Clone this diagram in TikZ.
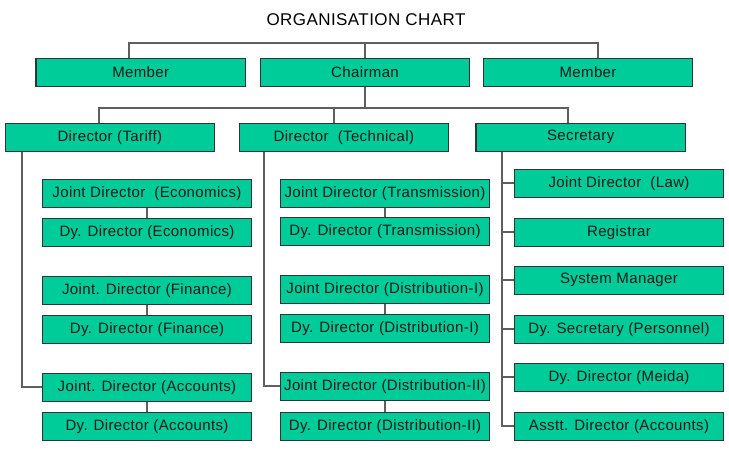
\documentclass[tikz,border=0pt]{standalone}
\usepackage{fontspec}
\setmainfont{Liberation Sans}
\newfontfamily\chartfont[LetterSpace=2.5]{Liberation Sans}
\usepackage{tikz}
\usetikzlibrary{positioning}

\definecolor{postgreen}{HTML}{00CC99}
\definecolor{postedge}{HTML}{333333}
\definecolor{linkgray}{HTML}{5F5F5F}

\tikzset{
    post/.style={draw=postedge,fill=postgreen,line width=1.1pt,minimum width=209.5pt,
        minimum height=28pt,inner sep=0pt,font=\chartfont\fontsize{15}{17}\selectfont,text=black!90},
    link/.style={draw=linkgray,line width=1.7pt}
}

\begin{document}
\begin{tikzpicture}[x=1pt,y=-1pt]
    \useasboundingbox (0,0) rectangle (729,455);
    \node (title) at (366,20) {\chartfont\fontsize{17}{19}\selectfont ORGANISATION CHART};

    % board
    \node[post] (member1) at (140.7,72.3) {Member};
    \node[post] (chairman) at (365,72.3) {Chairman};
    \node[post] (member2) at (588,72.3) {Member};

    % directors
    \node[post] (tariff) at (109.8,137.3) {Director (Tariff)};
    \node[post] (technical) at (343.8,137.3) {Director\ \ (Technical)};
    \node[post] (secretary) at (580.7,137.3) {Secretary};

    % tariff wing
    \node[post] (jdecon) at (147,193.5) {Joint Director\ \ (Economics)};
    \node[post] (dyecon) at (147,232.3) {Dy. Director (Economics)};
    \node[post] (jdfin) at (147,290.3) {Joint. Director (Finance)};
    \node[post] (dyfin) at (147,329.3) {Dy. Director (Finance)};
    \node[post] (jdacc) at (147,387.3) {Joint. Director (Accounts)};
    \node[post] (dyacc) at (147,426.3) {Dy. Director (Accounts)};

    % technical wing
    \node[post] (jdtrans) at (385,193.5) {Joint Director (Transmission)};
    \node[post] (dytrans) at (385,231.3) {Dy. Director (Transmission)};
    \node[post] (jddisa) at (385,289.3) {Joint Director (Distribution-I)};
    \node[post] (dydisa) at (385,328.3) {Dy. Director (Distribution-I)};
    \node[post] (jddisb) at (385,386.2) {Joint Director (Distribution-II)};
    \node[post] (dydisb) at (385,426.3) {Dy. Director (Distribution-II)};

    % secretary wing
    \node[post] (jdlaw) at (619,183.3) {Joint Director\ \ (Law)};
    \node[post] (registrar) at (619,232.3) {Registrar};
    \node[post] (sysmgr) at (619,280.3) {System Manager};
    \node[post] (dysec) at (619,329.3) {Dy. Secretary (Personnel)};
    \node[post] (dymeida) at (619,377.3) {Dy. Director (Meida)};
    \node[post] (asstt) at (619,426.3) {Asstt. Director (Accounts)};

    \coordinate (topbar) at (365,42.7);
    \coordinate (midbar) at (365,107.7);
    \coordinate (secspine) at ([xshift=-78.7pt]secretary.south);

    \draw[link] ([xshift=-12pt]member1.north) |- (topbar) -| ([xshift=9.7pt]member2.north);
    \draw[link] (chairman.north) -- (topbar);
    \draw[link] (chairman.south) -- (midbar);
    \draw[link] ([xshift=-11pt]tariff.north) |- (midbar) -| ([xshift=-12.7pt]secretary.north);
    \draw[link] ([xshift=-10pt]technical.north) -- ([xshift=-10pt]technical.north |- midbar);

    \draw[link] ([xshift=-88pt]tariff.south) |- (jdacc.west);
    \draw[link] ([xshift=-80pt]technical.south) |- (jddisb.west);
    \draw[link] (secspine) |- (asstt.west);
    \foreach \n in {jdlaw,registrar,sysmgr,dysec,dymeida}
        \draw[link] (\n.west) -- (\n.west -| secspine);

    \foreach \a/\b in {jdecon/dyecon,jdfin/dyfin,jdacc/dyacc,jdtrans/dytrans,jddisa/dydisa,jddisb/dydisb}
        \draw[link] (\a.south) -- (\b.north);
\end{tikzpicture}
\end{document}
